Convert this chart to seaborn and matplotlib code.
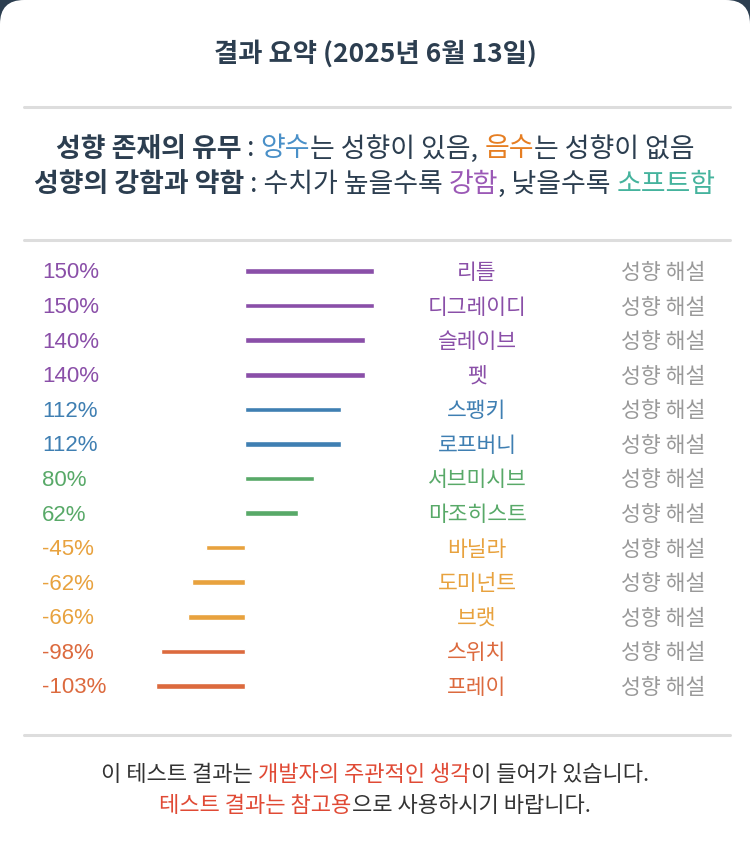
import matplotlib
matplotlib.use('Agg')
import matplotlib.pyplot as plt
import matplotlib.transforms as mtransforms
from matplotlib.patches import FancyBboxPatch
from matplotlib.lines import Line2D
import seaborn as sns
import pandas as pd

# data
names = ['리틀', '디그레이디', '슬레이브', '펫', '스팽키', '로프버니', '서브미시브',
         '마조히스트', '바닐라', '도미넌트', '브랫', '스위치', '프레이']
values = [150, 150, 140, 140, 112, 112, 80, 62, -45, -62, -66, -98, -103]
colors = ['#8a4fa8', '#8a4fa8', '#8a4fa8', '#8a4fa8', '#3f7fb2', '#3f7fb2',
          '#58a968', '#58a968', '#e8a23e', '#e8a23e', '#e8a23e', '#dc6a3e', '#dc6a3e']
link_label = '성향 해설'

title = '결과 요약 (2025년 6월 13일)'
dark = '#2c3e50'
legend_lines = [
    [('성향 존재의 유무', dark, 'bold'), (' : ', dark, 'normal'), ('양수', '#4a90c8', 'normal'),
     ('는 성향이 있음, ', dark, 'normal'), ('음수', '#e67e22', 'normal'),
     ('는 성향이 없음', dark, 'normal')],
    [('성향의 강함과 약함', dark, 'bold'), (' : 수치가 높을수록 ', dark, 'normal'),
     ('강함', '#9b59b6', 'normal'), (', 낮을수록 ', dark, 'normal'),
     ('소프트함', '#45b39d', 'normal')],
]
footer_lines = [
    [('이 테스트 결과는 ', '#333333', 'normal'), ('개발자의 주관적인 생각', '#e04a35', 'normal'),
     ('이 들어가 있습니다.', '#333333', 'normal')],
    [('테스트 결과는 참고용', '#e04a35', 'normal'), ('으로 사용하시기 바랍니다.', '#333333', 'normal')],
]

KR = ['Noto Sans CJK KR', 'DejaVu Sans']

sns.set_style('white')
plt.rcParams['font.family'] = KR

W, H = 750, 852
fig = plt.figure(figsize=(W / 100, H / 100), dpi=100)
fig.patch.set_facecolor(dark)
card = FancyBboxPatch((0, -0.4), W / 100, H / 100 + 0.4, boxstyle='round,pad=0,rounding_size=0.24',
                      transform=fig.dpi_scale_trans, facecolor='white', edgecolor='none', zorder=-10)
fig.add_artist(card)

def hline(ypx):
    fig.add_artist(Line2D([24 / W, 730 / W], [1 - ypx / H] * 2, color='#dddddd', lw=2.2))

def rich_line(ypx, parts, size):
    renderer = fig.canvas.get_renderer()
    arts = []
    widths = []
    for s, c, w in parts:
        t = fig.text(0, 1 - ypx / H, s, color=c, fontweight=w, fontsize=size, family=KR, va='center', ha='left')
        widths.append(t.get_window_extent(renderer).width)
        arts.append(t)
    x = (W - sum(widths)) / 2
    for t, wd in zip(arts, widths):
        t.set_x(x / W)
        x += wd

fig.text(0.5, 1 - 54 / H, title, ha='center', va='center', fontsize=19, fontweight='bold', color=dark, family=KR)
hline(107)
rich_line(149, legend_lines[0], 19.4)
rich_line(184, legend_lines[1], 19.4)
hline(240)
hline(735)
rich_line(775, footer_lines[0], 15.9)
rich_line(806, footer_lines[1], 15.9)

# bars
zero_px, scale = 245, 0.86
row_h = 34.58
top_px = 271 - row_h / 2
ax = fig.add_axes([0, 1 - (top_px + 13 * row_h) / H, 1, 13 * row_h / H])
ax.patch.set_alpha(0)
df = pd.DataFrame({'name': names, 'value': values})
sns.barplot(data=df, x='value', y='name', hue='name', palette=colors, orient='h',
            width=0.16, legend=False, saturation=1, ax=ax)
ax.set_xlim(-zero_px / scale, (W - zero_px) / scale)
ax.set_ylim(12.5, -0.5)
ax.axis('off')

trans = mtransforms.blended_transform_factory(fig.transFigure, ax.transData)
trans = mtransforms.offset_copy(trans, fig=fig, y=-2, units='dots')
for i, (n, v, c) in enumerate(zip(names, values, colors)):
    ax.text(42 / W, i, f'{v}%', transform=trans, ha='left', va='center', fontsize=16,
            color=c, family=['Liberation Sans', 'DejaVu Sans'])
    ax.text(477 / W, i, n, transform=trans, ha='center', va='center', fontsize=15.5, color=c, family=KR)
    ax.text(663 / W, i, link_label, transform=trans, ha='center', va='center', fontsize=15.6,
            color='#999999', family=KR)

fig.savefig('out.png', dpi=100, facecolor=fig.get_facecolor())
